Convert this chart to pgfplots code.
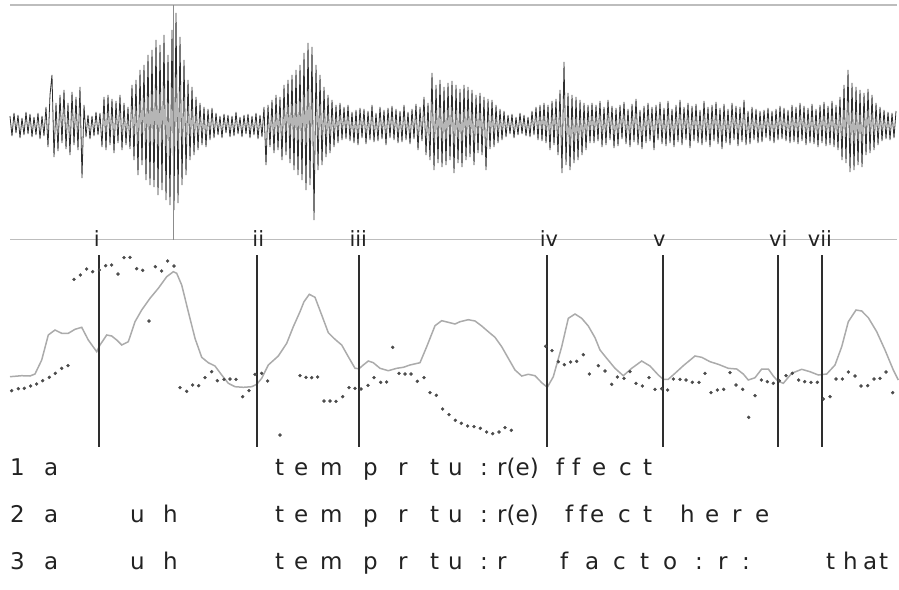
\documentclass[border=0pt]{standalone}
\usepackage{pgfplots}
\pgfplotsset{compat=1.18}
\usepackage{pgfplotstable}
\usepackage{fontspec}
\setmainfont{DejaVu Sans}

\definecolor{wavecol}{HTML}{2E2E2E}
\definecolor{hrulecol}{HTML}{BDBDBD}
\definecolor{intenscol}{HTML}{ABABAB}
\definecolor{dotcol}{HTML}{4A4A4A}
\definecolor{bndcol}{HTML}{2E2E2E}
\definecolor{txtcol}{HTML}{222222}

\newcommand{\tfont}{\fontsize{23}{26}\selectfont}
\newcommand{\rfont}{\fontsize{21}{24}\selectfont}
% one transcription token, left edge at x, baseline at y (pixel units)
\newcommand{\tk}[3]{\node[anchor=base west,inner sep=0pt,font=\tfont,text=txtcol] at (axis cs:#1,#2) {#3};}

% waveform samples, one every 2 px from x=10, as deviation from the centre line
\pgfplotstableread[row sep=\\]{
d\\ 9\\ -11\\ 12\\ -8\\ 10\\ -13\\ 7\\ -10\\ 13\\ -9\\ 11\\ -12\\ 8\\ -10\\ 12\\ -14\\ 9\\ -11\\
18\\ -22\\ 30\\ 50\\ -32\\ 22\\ -26\\ 30\\ -18\\ 35\\ -24\\ 22\\ -30\\ 33\\ -20\\ 28\\ -25\\ 38\\ -53\\ 20\\
-12\\ 10\\ -14\\ 9\\ -11\\ 13\\ -10\\ 12\\
-22\\ 28\\ -25\\ 30\\ -20\\ 26\\ -28\\ 24\\ -18\\ 30\\ -25\\ 22\\ -20\\ 18\\ -24\\
40\\ -35\\ 45\\ -50\\ 55\\ -40\\ 60\\ -55\\ 70\\ -60\\ 75\\ -62\\ 85\\ -70\\ 80\\ -65\\ 90\\ -75\\ 70\\ -80\\ 95\\ -85\\ 112\\ -78\\ 88\\ -60\\ 65\\ -50\\ 45\\ -35\\ 38\\ -30\\ 28\\
-25\\ 22\\ -20\\ 18\\ -22\\ 16\\ -15\\ 17\\ -13\\
12\\ -10\\ 9\\ -13\\ 11\\ -8\\ 10\\ -12\\ 9\\ -11\\ 13\\ -9\\ 8\\ -12\\ 10\\ -9\\ 11\\ -13\\ 9\\ -10\\ 12\\ -14\\ 10\\ -12\\
18\\ -40\\ 20\\ -22\\ 25\\ -28\\ 30\\ -25\\ 28\\ -35\\ 40\\ -30\\ 45\\ -38\\ 50\\ -45\\ 55\\ -50\\ 60\\
-55\\ 72\\ -65\\ 82\\ -60\\ 78\\ -95\\ 60\\ -45\\ 50\\
-40\\ 38\\ -32\\ 30\\ -28\\ 25\\ -22\\ 20\\ -18\\ 22\\
-15\\ 18\\ -14\\ 20\\ -16\\ 13\\ -18\\ 15\\ -20\\ 17\\ -13\\ 16\\ -19\\ 14\\ -15\\ 20\\ -17\\ 12\\ -16\\ 18\\ -14\\ 15\\ -20\\ 17\\ -13\\ 19\\ -15\\ 16\\ -18\\ 14\\ -17\\ 20\\ -15\\ 13\\ -19\\ 16\\ -14\\ 21\\ -25\\ 18\\ -16\\ 28\\ -30\\ 22\\
-35\\ 52\\ -45\\ 40\\ -38\\ 45\\ -42\\ 38\\ -40\\ 42\\ -35\\ 44\\ -48\\ 40\\ -38\\ 36\\ -42\\ 40\\ -35\\ 38\\ -32\\ 35\\ -40\\ 30\\ -28\\ 32\\ -30\\ 28\\ -45\\ 26\\ -24\\ 25\\ -22\\ 20\\ -18\\ 16\\ -15\\ 14\\
-12\\ 10\\ -9\\ 11\\ -13\\ 8\\ -10\\ 12\\ -9\\ 10\\ -11\\ 8\\ -12\\ 14\\ -10\\ 18\\ -15\\ 20\\ -16\\ 22\\ -18\\ 20\\ -25\\ 24\\ -20\\ 26\\
-30\\ 35\\ -48\\ 63\\ -40\\ 32\\ -45\\ 30\\ -38\\ 28\\ -35\\ 25\\ -30\\ 22\\ -25\\ 20\\ -18\\
22\\ -18\\ 20\\ -16\\ 24\\ -22\\ 18\\ -20\\ 25\\ -15\\ 19\\ -23\\ 17\\ -21\\ 20\\ -14\\ 23\\ -19\\ 16\\ -22\\
21\\ -17\\ 26\\ -20\\ 15\\ -24\\ 19\\ -18\\ 22\\ -16\\ 18\\ -25\\ 20\\ -15\\ 23\\ -19\\ 17\\ -21\\ 24\\ -18\\
16\\ -22\\ 20\\ -17\\ 25\\ -20\\ 18\\ -15\\ 22\\ -23\\ 19\\ -16\\ 21\\ -18\\ 15\\ -20\\ 24\\ -17\\ 18\\ -22\\
20\\ -16\\ 23\\ -19\\ 17\\ -24\\ 21\\ -18\\ 16\\ -20\\ 22\\ -15\\ 19\\ -21\\ 18\\ -17\\ 25\\ -20\\ 14\\ -19\\
18\\ -15\\ 16\\ -18\\ 14\\ -17\\ 15\\ -13\\ 17\\ -16\\ 14\\ -18\\ 16\\ -15\\ 19\\ -14\\ 17\\ -16\\ 15\\ -18\\
20\\ -17\\ 18\\ -19\\ 22\\ -16\\ 19\\ -20\\ 17\\ -18\\ 21\\ -19\\ 16\\ -22\\ 20\\ -18\\ 23\\ -21\\ 19\\ -20\\
24\\ -22\\ 20\\ -25\\
28\\ -35\\ 40\\ -38\\ 55\\ -47\\ 42\\ -45\\ 38\\ -40\\ 35\\ -42\\ 32\\ -30\\ 36\\ -28\\ 30\\ -25\\ 22\\ -20\\ 18\\
-16\\ 15\\ -14\\ 13\\ -15\\ 12\\ -13\\ 14\\
}\wavedata

\begin{document}
\begin{tikzpicture}
\begin{axis}[
  width=899pt, height=589pt, scale only axis,
  xmin=0, xmax=899, ymin=0, ymax=589, y dir=reverse,
  hide axis, clip=false, unbounded coords=jump,
]
% frame rules of the waveform panel
\addplot[hrulecol, line width=1.4pt] coordinates {(10,5)(897,5) (nan,nan) (10,239.5)(897,239.5)};
% waveform
\addplot[wavecol, line width=0.8pt, line join=bevel] table[x index=0, y index=0, x expr=10+2*\coordindex, y expr=125-\thisrow{d}] {\wavedata};
% cursor
\addplot[black!45, line width=0.9pt] coordinates {(173.3,5)(173.3,239.5)};

% intensity contour
\addplot[intenscol, line width=1.5pt] coordinates {
(10,376.7)(21.7,375.7)(30,376)(35,374)(41.7,360)(48.3,335)(55,330)(61.7,333.3)(68.3,333.3)(75,329.3)
(81.7,327.3)(88.3,340)(96.7,351.7)(100,345)(106.7,335)(111.7,336)(116.7,340)(121.7,345)(128.3,341.7)
(135,321.7)(141.7,310)(150,298.3)(158.3,288.3)(166.7,276.7)(173.3,271.7)(176.7,273.3)(181.7,285)
(188.3,311.7)(195,338.3)(201.7,357.3)(208.3,362.7)(215,366)(221.7,375)(228.3,383.3)(235,386.7)
(243.3,387.3)(251.7,386.7)(256.7,384.3)(261.7,378.3)(268.3,365)(278.3,356)(286.7,343.3)(293.3,326.7)
(300,311.7)(304,301.7)(309.3,294.3)(315,297.3)(321.7,315)(328.3,332.7)(335,339.3)(341.7,345)
(348.3,356.7)(355,368.3)(359,368.7)(363.3,365)(368.3,361)(373.3,362.7)(380,368.3)(388.3,370.7)
(396.7,368.3)(403.3,367.3)(410,365)(420,362.7)(426.7,346.7)(435,325.7)(441.7,320.7)(448.3,322.3)
(455,324)(460,321.7)(468.3,319.7)(475,321)(481.7,326)(488.3,331.7)(495,337.3)(501.7,346.7)(508.3,358.3)
(515,370)(521.7,376)(528.3,374.3)(535,375.7)(541.7,382.7)(547.3,387.3)(553.3,376.7)(561.7,346.7)
(568.3,318.3)(575,314)(581.7,318.3)(588.3,326)(595,337.7)(600,350)(606.7,358.3)(615,368.3)(623.3,375.7)
(631.7,368.3)(641.7,361)(650,366)(658.3,375)(663.3,379.3)(668.3,379.3)(675,373.3)(683.3,365.7)(695,356)
(701.7,357.3)(710,361.7)(718.3,364.3)(728.3,368.3)(736.7,369)(743.3,374)(748.3,380)(755,377.7)
(761.7,369)(768.3,369)(773.3,376)(777.7,381)(783.3,383.3)(791.7,373.3)(801.7,369.3)(810,371.7)
(818.3,375)(826.7,374)(835,365)(841.7,346.7)(848.3,321.7)(856,310)(861.7,311)(868.3,317.7)
(876.7,331.7)(885,350)(893.3,370)(898.3,380)};

% pitch track
\addplot[only marks, mark=*, mark size=1.5pt, dotcol, mark options={draw=none, fill=dotcol}] coordinates {
(11.7,390.7)(18.3,388.7)(24.3,388.3)(30.7,386)(36.7,384)(42.7,380.7)(49.3,377.3)(55.3,373.3)(61.7,368.3)(68,365.7)
(74,279.3)(80.3,275)(86.7,269)(92.7,271.7)(99.3,270)(105.7,265.7)(111.7,265)(118,274)(124,257.7)(130,257.3)
(136.7,268.7)(142.7,270.3)(149,321)(155.3,266.7)(161.7,271)(167.7,261)(174,266)
(180,387.7)(186.7,391.3)(192.7,385)(198.7,385.7)(205,377.7)(211.7,371.7)(217.3,380.7)(224,379.3)(230,379)(236,379.3)
(242.7,396.7)(249,390.7)(255,374.3)(261.7,373.3)(267.7,381)(280,435)
(300,375.7)(306,377.3)(311.7,377.7)(317.7,377)(324,401)(330,401)(336,401.3)(342.7,396.7)
(349,387.7)(355,388.3)(361,389)(368,385.3)(374,377.7)(380.7,382.3)(386.7,382)(392.7,347.3)
(399,373.3)(405,374)(411,374)(417.3,381.3)(424,377.7)(430,392.7)(436.3,395.3)(442.7,409)(449,414.7)
(455.3,420.3)(461.3,423.3)(467.7,426)(474,426.7)(480.3,428.3)(486.7,432)(492.7,433.7)(499,432)(505,427.7)(511.3,430.3)
(545.7,346.3)(552,350.7)(558.3,361.7)(564.3,364.7)(570.7,362)(576.7,361.3)(583.3,354.7)(589.3,374)(598.3,365.7)
(605,371)(611.7,384.3)(617.3,377)(624,378.3)(630,371.7)(636,383.3)(642.3,386)(649,377.7)
(655,389.3)(661.7,388.7)(667.7,390)(673.3,379)(680,379.3)(686,380)(692.3,382.3)(699,382.3)(705,373.3)
(711,392.7)(717.3,390)(723.7,389.3)(730,372.7)(736,385)(742.7,389.3)(748.7,417.3)(755,395.7)
(761.3,380)(767.3,381.7)(773.3,383.3)(779.3,380.7)(786,375.7)(792.3,373.3)
(798.7,380)(804.7,381.7)(811,382.3)(817.3,382.3)(823.3,399)(830,396.7)(836,379)(842.3,379)
(848.3,372)(855,376)(861,386)(867.7,385.7)(874,379)(880,378.3)(886,372)(892.7,392.7)};

% boundary markers i - vii
\addplot[bndcol, line width=1.8pt] coordinates {
(98.7,255)(98.7,447) (nan,nan) (256.7,255)(256.7,447) (nan,nan) (359,255)(359,447) (nan,nan)
(547.3,255)(547.3,447) (nan,nan) (663.3,255)(663.3,447) (nan,nan) (777.7,255)(777.7,447) (nan,nan)
(822.3,255)(822.3,447)};

\foreach \x/\l in {96.7/i, 258.3/ii, 358.3/iii, 549/iv, 659.3/v, 778.3/vi, 820/vii}{
  \edef\tmp{\noexpand\node[anchor=base,inner sep=0pt,font=\noexpand\rfont,text=txtcol] at (axis cs:\x,246.5) {\l};}
  \tmp
}

% transcription line 1
\tk{10}{475}{1}\tk{44}{475}{a}
\tk{275}{475}{t}\tk{294}{475}{e}\tk{320}{475}{m}\tk{363}{475}{p}\tk{398}{475}{r}
\tk{430}{475}{t}\tk{448}{475}{u}\tk{480}{475}{:}\tk{497}{475}{r(e)}
\tk{556}{475}{f}\tk{572}{475}{f}\tk{592}{475}{e}\tk{619}{475}{c}\tk{643}{475}{t}
% line 2
\tk{10}{522}{2}\tk{44}{522}{a}\tk{130}{522}{u}\tk{163}{522}{h}
\tk{275}{522}{t}\tk{294}{522}{e}\tk{320}{522}{m}\tk{363}{522}{p}\tk{398}{522}{r}
\tk{430}{522}{t}\tk{448}{522}{u}\tk{480}{522}{:}\tk{497}{522}{r(e)}
\tk{565}{522}{f}\tk{579}{522}{f}\tk{590}{522}{e}\tk{618}{522}{c}\tk{643}{522}{t}
\tk{680}{522}{h}\tk{705}{522}{e}\tk{732}{522}{r}\tk{755}{522}{e}
% line 3
\tk{10}{569}{3}\tk{44}{569}{a}\tk{130}{569}{u}\tk{163}{569}{h}
\tk{275}{569}{t}\tk{294}{569}{e}\tk{320}{569}{m}\tk{363}{569}{p}\tk{398}{569}{r}
\tk{430}{569}{t}\tk{448}{569}{u}\tk{480}{569}{:}\tk{497}{569}{r}
\tk{560}{569}{f}\tk{585}{569}{a}\tk{613}{569}{c}\tk{640}{569}{t}\tk{663}{569}{o}
\tk{695}{569}{:}\tk{718}{569}{r}\tk{742}{569}{:}
\tk{826}{569}{t}\tk{843}{569}{h}\tk{863}{569}{a}\tk{879}{569}{t}
\end{axis}
\pgfresetboundingbox
\path[use as bounding box] (current axis.south west) rectangle (current axis.north east);
\end{tikzpicture}
\end{document}
